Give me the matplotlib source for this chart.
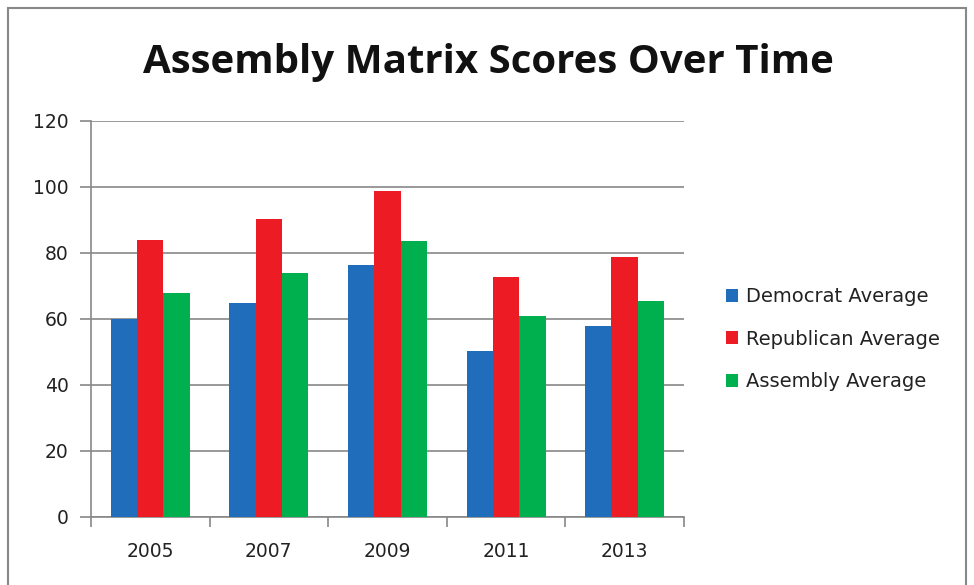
import numpy as np
import matplotlib
matplotlib.use("Agg")
import matplotlib.pyplot as plt
from matplotlib.patches import Rectangle

years = ["2005", "2007", "2009", "2011", "2013"]
democrat = [59.8, 64.8, 76.3, 50.3, 57.7]
republican = [83.7, 90.2, 98.7, 72.7, 78.7]
assembly = [67.8, 74.0, 83.6, 60.7, 65.4]
series_names = ["Democrat Average", "Republican Average", "Assembly Average"]
colors = ["#1f6dbb", "#ed1c24", "#00b04f"]

fig = plt.figure(figsize=(9.74, 5.85), dpi=100)
ax = fig.add_axes([0.0934, 0.1167, 0.6088, 0.677])

x = np.arange(len(years))
w = 1 / 4.5
for i, (vals, name, c) in enumerate(zip([democrat, republican, assembly], series_names, colors)):
    ax.bar(x + (i - 1) * w, vals, width=w, color=c, label=name, zorder=3)

ax.set_xlim(-0.5, len(years) - 0.5)
ax.set_ylim(0, 120)
ax.set_yticks(range(0, 121, 20))
ax.set_xticks(x)
ax.set_xticklabels(years)
ax.set_xticks(np.arange(-0.5, len(years)), minor=True)
ax.tick_params(axis="x", which="major", length=0, pad=18, labelsize=13.5, labelcolor="#222222")
ax.tick_params(axis="x", which="minor", length=7, width=1.2, color="#888888", direction="out")
ax.tick_params(axis="y", length=8, width=1.2, color="#888888", pad=8, labelsize=13.5, labelcolor="#222222")
ax.grid(axis="y", color="#888888", linewidth=1.2, zorder=0)
for s in ["top", "right"]:
    ax.spines[s].set_visible(False)
for s in ["left", "bottom"]:
    ax.spines[s].set_color("#888888")
    ax.spines[s].set_linewidth(1.2)

fig.text(0.501, 0.893, "Assembly Matrix Scores Over Time", ha="center", va="center",
         fontsize=29, fontweight="bold", family="Open Sans", color="#111111")

fig.legend(loc="center left", bbox_to_anchor=(0.727, 0.42), frameon=False,
           fontsize=14, handlelength=0.65, handleheight=0.65, handletextpad=0.4,
           labelspacing=1.2, labelcolor="#222222")

fig.patches.append(Rectangle((8 / 974, -0.05), 958 / 974, 1.05 - 8 / 585, transform=fig.transFigure,
                             fill=False, edgecolor="#888888", linewidth=1.5))

fig.savefig("out.png", dpi=100)
